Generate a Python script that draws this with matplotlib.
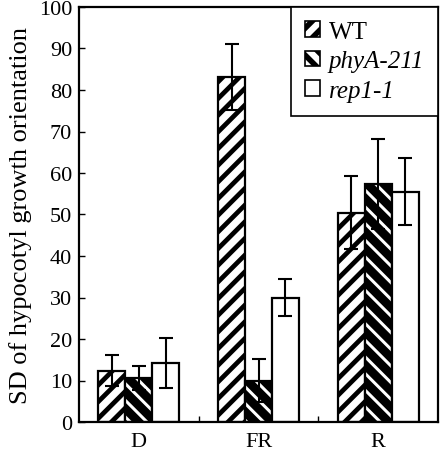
import matplotlib
matplotlib.use("Agg")
import matplotlib.pyplot as plt
import numpy as np
from matplotlib.patches import Patch

conditions = ["D", "FR", "R"]
genotypes = ["WT", "phyA-211", "rep1-1"]
wt_vals = [12.4, 83.2, 50.4]
wt_err = [3.8, 8.0, 8.8]
phya_vals = [10.6, 10.0, 57.3]
phya_err = [2.8, 5.2, 10.9]
rep_vals = [14.2, 30.0, 55.5]
rep_err = [6.0, 4.5, 8.0]
yticks = [0, 10, 20, 30, 40, 50, 60, 70, 80, 90, 100]

plt.rcParams['font.family'] = ['Liberation Serif', 'DejaVu Serif']

fig = plt.figure(figsize=(4.44, 4.52), dpi=100)
ax = fig.add_axes([79/444, 29/452, 359/444, 415/452])

x = np.arange(len(conditions))
w = 0.225
series = [
    (wt_vals, wt_err, '//', 3.4),
    (phya_vals, phya_err, '\\\\', 6.3),
    (rep_vals, rep_err, '', 1.0),
]
handles = []
for i, (vals, errs, hatch, hlw) in enumerate(series):
    with plt.rc_context({'hatch.linewidth': hlw, 'hatch.color': 'black'}):
        ax.bar(x + (i - 1) * w, vals, w, facecolor='white', edgecolor='black',
               linewidth=1.6, hatch=hatch, zorder=2)
        ax.errorbar(x + (i - 1) * w, vals, yerr=errs, fmt='none', ecolor='black',
                    elinewidth=1.5, capsize=4.7, capthick=1.5, zorder=3)
        handles.append(Patch(facecolor='white', edgecolor='black', linewidth=1.2,
                             hatch=hatch))

ax.set_xlim(-0.5, 2.5)
ax.set_ylim(0, 100)
ax.set_yticks(yticks)
ax.set_yticklabels([str(t) for t in yticks], fontsize=16)
ax.set_xticks(x)
ax.set_xticklabels(conditions, fontsize=16)
ax.tick_params(axis='x', length=0, pad=7.5)
ax.set_xticks([0.5, 1.5], minor=True)
ax.tick_params(axis='x', which='minor', direction='in', length=4, width=1)
ax.tick_params(axis='y', direction='in', length=4, width=1, pad=5)
for s in ax.spines.values():
    s.set_linewidth(1.6)
ax.set_ylabel("SD of hypocotyl growth orientation", fontsize=19, labelpad=5)

with plt.rc_context({'hatch.linewidth': 4.0}):
    leg = ax.legend(handles, ["WT", "phyA-211", "rep1-1"], loc='upper right',
                    borderaxespad=0, fontsize=18, handlelength=0.6, handleheight=0.6,
                    handletextpad=0.35, fancybox=False, framealpha=1, edgecolor='black',
                    borderpad=0.55, labelspacing=0.3)
leg.get_frame().set_linewidth(1.2)
for t in leg.get_texts()[1:]:
    t.set_fontstyle('italic')

fig.savefig("out.png", dpi=100)
